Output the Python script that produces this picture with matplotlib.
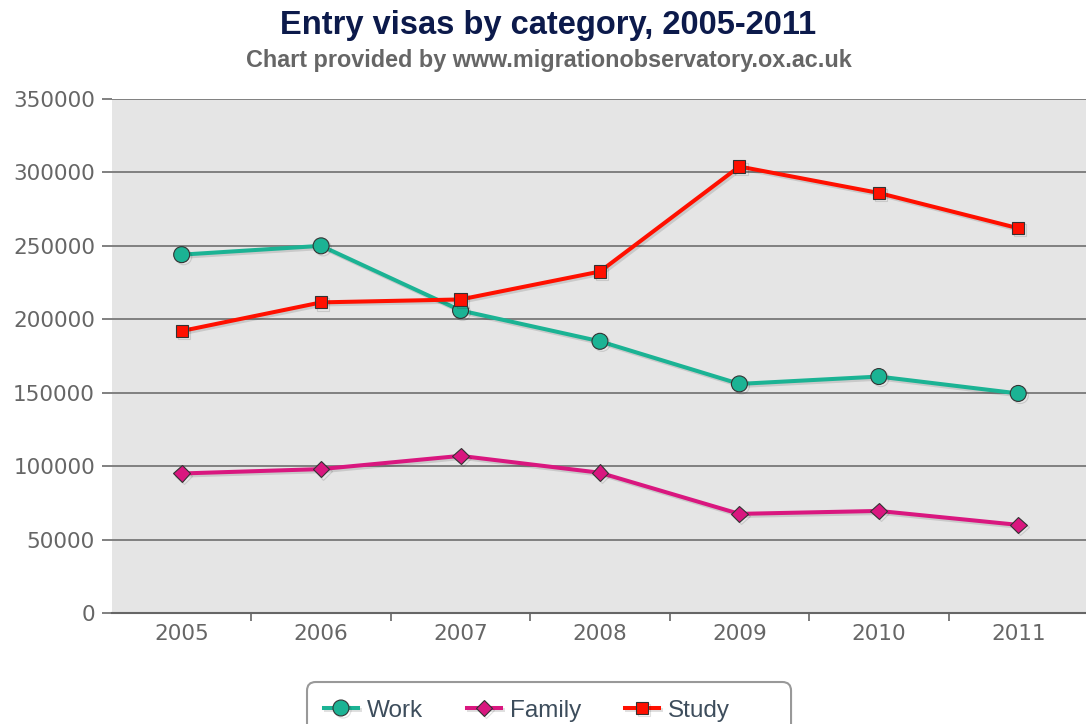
import numpy as np
import matplotlib
matplotlib.use('Agg')
import matplotlib.pyplot as plt
import matplotlib.patheffects as pe
from matplotlib.patches import FancyBboxPatch
from matplotlib.ticker import FixedLocator

years = ['2005', '2006', '2007', '2008', '2009', '2010', '2011']
work = [244000, 250000, 206000, 185000, 156000, 161000, 149500]
family = [95000, 98000, 107000, 95500, 67500, 69500, 60000]
study = [192000, 211500, 213500, 232500, 304000, 286000, 262000]

fig = plt.figure(figsize=(10.86, 7.24), dpi=100)
ax = fig.add_axes([0.1031, 0.1533, 0.8987, 0.71])
ax.set_facecolor('#e5e5e5')

x = np.arange(len(years))
shadow = [pe.SimpleLineShadow(offset=(1.5, -1.5), alpha=0.12, shadow_color='k'),
          pe.Normal()]

ax.plot(x, work, color='#1bb394', lw=2.9, marker='o', ms=11.5,
        mfc='#1bb394', mec='#333333', mew=0.8, label='Work',
        path_effects=shadow, zorder=3)
ax.plot(x, family, color='#d9177f', lw=2.9, marker='D', ms=8.5,
        mfc='#d9177f', mec='#333333', mew=0.8, label='Family',
        path_effects=shadow, zorder=3)
ax.plot(x, study, color='#ff1000', lw=2.9, marker='s', ms=8.8,
        mfc='#ff1000', mec='#333333', mew=0.8, label='Study',
        path_effects=shadow, zorder=4)

ax.set_xlim(-0.5, 6.5)
ax.set_ylim(0, 350000)
ax.set_yticks(np.arange(0, 350001, 50000))
ax.set_yticklabels([str(v) for v in range(0, 350001, 50000)])
ax.set_xticks(x)
ax.set_xticklabels(years)
ax.xaxis.set_minor_locator(FixedLocator(np.arange(0.5, 6.0, 1.0)))

ax.grid(axis='y', color='#808080', lw=1.4)
ax.set_axisbelow(True)
for s in ['top', 'right', 'left']:
    ax.spines[s].set_visible(False)
ax.spines['bottom'].set_color('#666666')
ax.spines['bottom'].set_linewidth(1.5)
ax.spines['bottom'].set_zorder(2)

ax.tick_params(axis='y', length=7.2, width=1.4, color='#808080', pad=5,
               labelsize=15.5, labelcolor='#666666')
ax.tick_params(axis='x', which='major', length=0, pad=8,
               labelsize=15.5, labelcolor='#666666')
ax.tick_params(axis='x', which='minor', length=6, width=1.2, color='#666666')
for lab in ax.get_xticklabels() + ax.get_yticklabels():
    lab.set_family('DejaVu Sans')

fig.text(0.505, 0.965, 'Entry visas by category, 2005-2011',
         ha='center', va='center', fontsize=23.5, fontweight='bold',
         color='#0c1a4b', family='Liberation Sans')
fig.text(0.505, 0.916, 'Chart provided by www.migrationobservatory.ox.ac.uk',
         ha='center', va='center', fontsize=16.8, fontweight='bold',
         color='#666666', family='Liberation Sans')

# legend box is wider than its items, with extra room on the right
box = FancyBboxPatch((0.2827, -0.03), 0.4457, 0.088,
                     boxstyle='round,pad=0,rounding_size=0.008',
                     transform=fig.transFigure, facecolor='white',
                     edgecolor='#999999', lw=1.5, mutation_aspect=1.5)
fig.patches.append(box)

leg = fig.legend(loc='upper center', bbox_to_anchor=(0.4852, 0.054), ncol=3,
                 frameon=False, handlelength=1.4,
                 handletextpad=0.37, columnspacing=1.8, borderpad=0.6,
                 borderaxespad=0,
                 prop={'family': 'Liberation Sans', 'size': 17.5})
for t in leg.get_texts():
    t.set_color('#3d4d5c')

fig.savefig('out.png', dpi=100)
